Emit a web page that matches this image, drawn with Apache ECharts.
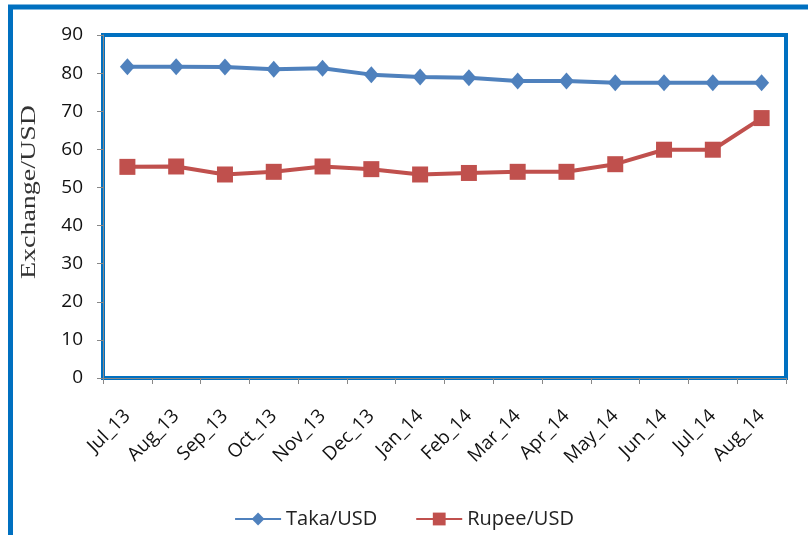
<!DOCTYPE html>
<html>
<head>
<meta charset="utf-8">
<script src="https://cdn.jsdelivr.net/npm/echarts@6/dist/echarts.min.js"></script>
<style>
  html, body { margin: 0; padding: 0; background: #fff; }
  #chart { width: 808px; height: 535px; }
</style>
</head>
<body>
<div id="chart"></div>
<script>
// Monthly exchange rates against the US dollar, Jul 2013 – Aug 2014
const months = ['Jul_13', 'Aug_13', 'Sep_13', 'Oct_13', 'Nov_13', 'Dec_13', 'Jan_14',
                'Feb_14', 'Mar_14', 'Apr_14', 'May_14', 'Jun_14', 'Jul_14', 'Aug_14'];
const takaUsd  = [81.7, 81.7, 81.6, 81.0, 81.3, 79.6, 79.0, 78.8, 77.9, 77.9, 77.5, 77.5, 77.5, 77.5];
const rupeeUsd = [55.4, 55.5, 53.4, 54.1, 55.5, 54.8, 53.4, 53.8, 54.1, 54.1, 56.1, 59.9, 59.9, 68.2];
const yTicks = { min: 0, max: 90, step: 10 };

const chart = echarts.init(document.getElementById('chart'), null, { renderer: 'canvas' });

const labelFont = '"Open Sans", "Noto Sans", sans-serif';

chart.setOption({
  animation: false,
  backgroundColor: '#ffffff',
  grid: {
    left: 103, right: 22, top: 35, bottom: 157,
    show: true,
    borderColor: '#0070C0',
    borderWidth: 4,
    backgroundColor: 'transparent'
  },
  legend: {
    bottom: 1,
    left: 'center',
    itemWidth: 46,
    itemHeight: 16,
    itemGap: 38,
    textStyle: { fontFamily: labelFont, fontSize: 20, color: '#222' },
    data: ['Taka/USD', 'Rupee/USD']
  },
  xAxis: {
    type: 'category',
    data: months,
    boundaryGap: true,
    axisLine: { show: true, lineStyle: { color: '#888', width: 1 } },
    axisTick: { show: true, length: 6, lineStyle: { color: '#888' } },
    axisLabel: {
      rotate: 45,
      margin: 35,
      fontFamily: labelFont,
      fontSize: 19,
      color: '#111',
      interval: 0
    },
    splitLine: { show: false }
  },
  yAxis: {
    type: 'value',
    min: yTicks.min,
    max: yTicks.max,
    interval: yTicks.step,
    axisLine: { show: true, lineStyle: { color: '#888', width: 1 } },
    axisTick: { show: true, length: 6, lineStyle: { color: '#888' } },
    axisLabel: {
      margin: 20,
      fontFamily: labelFont,
      fontSize: 19,
      color: '#111'
    },
    splitLine: { show: false }
  },
  series: [
    {
      name: 'Taka/USD',
      type: 'line',
      data: takaUsd,
      symbol: 'diamond',
      symbolSize: [15, 17],
      lineStyle: { color: '#4F81BD', width: 4 },
      itemStyle: { color: '#4F81BD' },
      z: 3
    },
    {
      name: 'Rupee/USD',
      type: 'line',
      data: rupeeUsd,
      symbol: 'rect',
      symbolSize: 16,
      lineStyle: { color: '#C0504D', width: 4 },
      itemStyle: { color: '#C0504D' },
      z: 3
    }
  ],
  graphic: [
    {
      // outer frame around the figure
      type: 'rect',
      shape: { x: 10.5, y: 7, width: 820, height: 560 },
      style: { fill: 'none', stroke: '#0070C0', lineWidth: 5 },
      silent: true
    },
    {
      type: 'text',
      x: 30,
      y: 192,
      rotation: Math.PI / 2,
      scaleX: 1.4,
      style: {
        text: 'Exchange/USD',
        font: '20px "Liberation Serif", "DejaVu Serif", serif',
        fill: '#333',
        align: 'center',
        verticalAlign: 'middle'
      }
    }
  ]
});
</script>
</body>
</html>
